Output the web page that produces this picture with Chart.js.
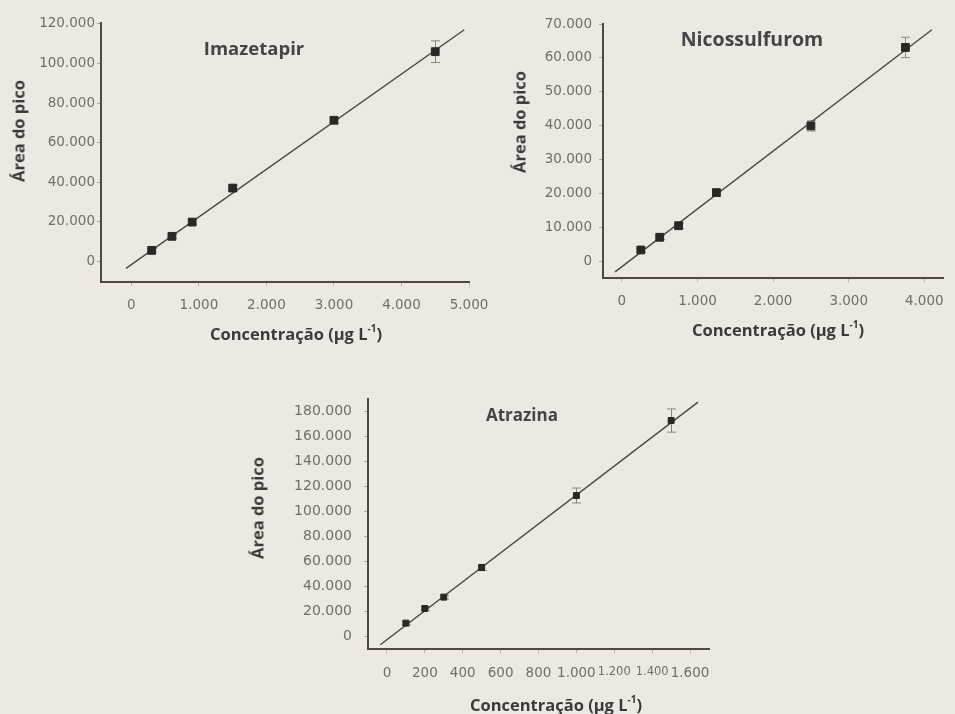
<!DOCTYPE html>
<html>
<head>
<meta charset="utf-8">
<script src="https://cdn.jsdelivr.net/npm/chart.js@4.4.1/dist/chart.umd.min.js"></script>
<style>
  html, body { margin:0; padding:0; background:#ede9e2; width:955px; height:714px; overflow:hidden; font-family:"Open Sans", sans-serif; }
  .wrap { position:absolute; }
  .txt { position:absolute; transform:translate(-50%,-50%); white-space:nowrap; font-weight:bold; color:#3a3a3a; font-family:"Open Sans", sans-serif; }
  .rot { transform:translate(-50%,-50%) rotate(-90deg); }
  sup { font-size:10px; vertical-align:8px; line-height:0; }
</style>
</head>
<body>
<div class="wrap" style="left:0;top:0;"><canvas id="c1" width="500" height="350"></canvas></div>
<div class="wrap" style="left:480px;top:0;"><canvas id="c2" width="475" height="350"></canvas></div>
<div class="wrap" style="left:230px;top:370px;"><canvas id="c3" width="500" height="344"></canvas></div>

<div class="txt" style="left:254px;top:47px;font-size:18.5px;color:#454545;">Imazetapir</div>
<div class="txt" style="left:752px;top:38px;font-size:19.5px;color:#454545;">Nicossulfurom</div>
<div class="txt" style="left:522px;top:414px;font-size:17px;color:#454545;">Atrazina</div>

<div class="txt rot" style="left:18px;top:131px;font-size:16.5px;">Área do pico</div>
<div class="txt rot" style="left:519px;top:122px;font-size:16.5px;">Área do pico</div>
<div class="txt rot" style="left:257px;top:508px;font-size:16.5px;">Área do pico</div>

<div class="txt" style="left:296px;top:333px;font-size:16.5px;">Concentração (μg L<sup>-1</sup>)</div>
<div class="txt" style="left:778px;top:329px;font-size:16.5px;">Concentração (μg L<sup>-1</sup>)</div>
<div class="txt" style="left:556px;top:704px;font-size:16.5px;">Concentração (μg L<sup>-1</sup>)</div>

<script>
// ---------- Imazetapir ----------
const imzConc = [300, 600, 900, 1500, 3000, 4500];
const imzArea = [5500, 12600, 19800, 37000, 71300, 106000];
const imzErr  = [1000, 1000, 1200, 1500, 1500, 5500];
const imzFitX = [-80, 4930];
const imzFitY = [-3600, 117100];
const imzXTicks = [0, 1000, 2000, 3000, 4000, 5000];
const imzYTicks = [0, 20000, 40000, 60000, 80000, 100000, 120000];

// ---------- Nicossulfurom ----------
const nicConc = [250, 500, 750, 1250, 2500, 3750];
const nicArea = [3450, 7200, 10600, 20350, 40000, 63100];
const nicErr  = [700, 700, 800, 1000, 1500, 3000];
const nicFitX = [-90, 4100];
const nicFitY = [-3000, 68300];
const nicXTicks = [0, 1000, 2000, 3000, 4000];
const nicYTicks = [0, 10000, 20000, 30000, 40000, 50000, 60000, 70000];

// ---------- Atrazina ----------
const atrConc = [100, 200, 300, 500, 1000, 1500];
const atrArea = [10700, 22400, 31500, 55200, 112800, 172800];
const atrErr  = [1500, 1500, 1500, 2500, 6000, 9300];
const atrFitX = [-35, 1642];
const atrFitY = [-6600, 187500];
const atrXTicks = [0, 200, 400, 600, 800, 1000, 1200, 1400, 1600];
const atrYTicks = [0, 20000, 40000, 60000, 80000, 100000, 120000, 140000, 160000, 180000];

function fmt(v) {
  const s = String(Math.round(Math.abs(v)));
  return (v < 0 ? '-' : '') + s.replace(/\B(?=(\d{3})+(?!\d))/g, '.');
}

const errorBars = {
  id: 'errorBars',
  beforeDatasetsDraw(chart) {
    const ctx = chart.ctx;
    const xs = chart.scales.x, ys = chart.scales.y;
    chart.data.datasets.forEach(ds => {
      if (!ds.errors) return;
      ctx.save();
      ctx.strokeStyle = '#8c8681';
      ctx.lineWidth = 1;
      ds.data.forEach((p, j) => {
        const e = ds.errors[j];
        const px = Math.round(xs.getPixelForValue(p.x)) + 0.5;
        const t = ys.getPixelForValue(p.y + e);
        const b = ys.getPixelForValue(p.y - e);
        const cw = 4.5;
        ctx.beginPath();
        ctx.moveTo(px, t); ctx.lineTo(px, b);
        ctx.moveTo(px - cw, t); ctx.lineTo(px + cw, t);
        ctx.moveTo(px - cw, b); ctx.lineTo(px + cw, b);
        ctx.stroke();
      });
      ctx.restore();
    });
  }
};

function makeChart(id, cfg) {
  const pts = cfg.conc.map((x, i) => ({x: x, y: cfg.area[i]}));
  const fit = cfg.fitX.map((x, i) => ({x: x, y: cfg.fitY[i]}));
  return new Chart(document.getElementById(id), {
    type: 'scatter',
    data: {
      datasets: [
        {
          data: pts,
          errors: cfg.err,
          pointStyle: 'rect',
          pointRadius: cfg.pr,
          pointBackgroundColor: '#2b2725',
          pointBorderColor: '#2b2725',
          pointBorderWidth: 1,
          showLine: false
        },
        {
          data: fit,
          showLine: true,
          borderColor: '#4a4541',
          borderWidth: 1.4,
          pointRadius: 0,
          fill: false
        }
      ]
    },
    options: {
      responsive: false,
      animation: false,
      devicePixelRatio: 1,
      layout: { padding: cfg.pad },
      plugins: { legend: { display: false }, tooltip: { enabled: false }, title: { display: false } },
      scales: {
        x: {
          type: 'linear',
          min: cfg.xmin, max: cfg.xmax,
          afterBuildTicks: s => { s.ticks = cfg.xTicks.map(v => ({value: v})); },
          afterFit: s => { s.height = cfg.xh; },
          grid: { drawOnChartArea: false, drawTicks: true, tickLength: 4, color: '#b9b3ad' },
          border: { display: true, color: '#4f4845', width: 2 },
          ticks: {
            autoSkip: false, maxRotation: 0, padding: cfg.xpad,
            color: '#716d69',
            font: c => ({ family: 'DejaVu Sans', size: (cfg.small && cfg.small.includes(c.tick && c.tick.value)) ? 11.5 : 13.5 }),
            callback: v => fmt(v)
          },
          title: { display: false }
        },
        y: {
          type: 'linear',
          min: cfg.ymin, max: cfg.ymax,
          afterBuildTicks: s => { s.ticks = cfg.yTicks.map(v => ({value: v})); },
          afterFit: s => { s.width = cfg.yw; },
          grid: { drawOnChartArea: false, drawTicks: true, tickLength: 4, color: '#a8a29c' },
          border: { display: true, color: '#4f4845', width: 2 },
          ticks: {
            autoSkip: false, padding: cfg.ypad,
            color: '#716d69',
            font: { family: 'DejaVu Sans', size: cfg.yfs },
            callback: v => fmt(v)
          },
          title: { display: false }
        }
      }
    },
    plugins: [errorBars]
  });
}

makeChart('c1', {
  conc: imzConc, area: imzArea, err: imzErr, fitX: imzFitX, fitY: imzFitY,
  xTicks: imzXTicks, yTicks: imzYTicks,
  xmin: -450, xmax: 5000, ymin: -10500, ymax: 120500,
  pad: { left: 0, top: 23, right: 31, bottom: 0 }, yw: 101, xh: 68,
  xpad: 11, ypad: 2, yfs: 13.5, pr: 5.5
});
makeChart('c2', {
  conc: nicConc, area: nicArea, err: nicErr, fitX: nicFitX, fitY: nicFitY,
  xTicks: nicXTicks, yTicks: nicYTicks,
  xmin: -250, xmax: 4250, ymin: -4800, ymax: 70000,
  pad: { left: 0, top: 24, right: 6, bottom: 0 }, yw: 123, xh: 72,
  xpad: 11, ypad: 7, yfs: 13.5, pr: 5.5
});
makeChart('c3', {
  conc: atrConc, area: atrArea, err: atrErr, fitX: atrFitX, fitY: atrFitY,
  xTicks: atrXTicks, yTicks: atrYTicks, small: [1200, 1400],
  xmin: -100, xmax: 1700, ymin: -10000, ymax: 190000,
  pad: { left: 0, top: 29, right: 21, bottom: 0 }, yw: 138, xh: 65,
  xpad: 12, ypad: 12, yfs: 14, pr: 4.2
});
</script>
</body>
</html>
